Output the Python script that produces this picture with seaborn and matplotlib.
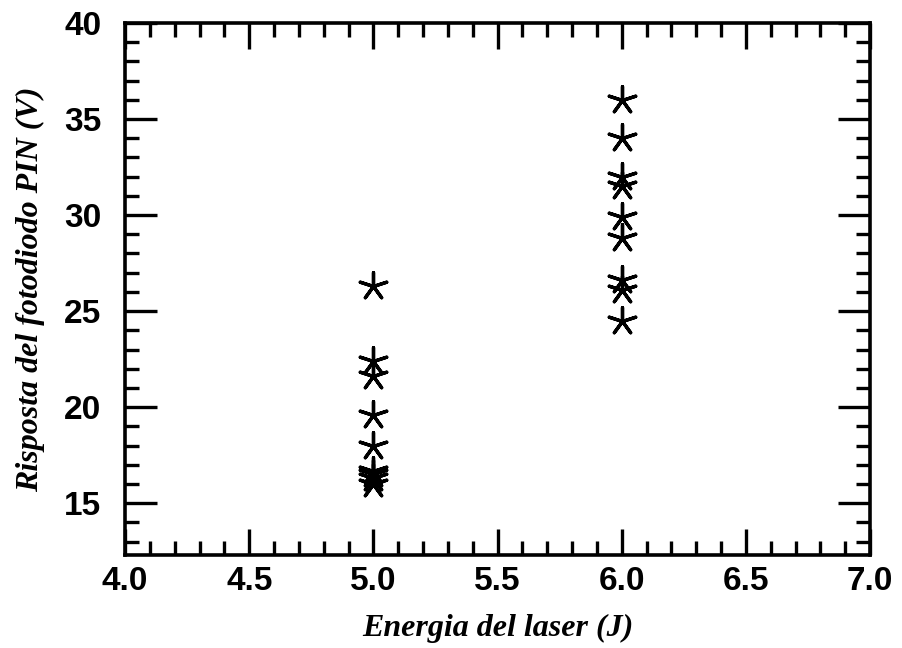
import matplotlib
matplotlib.use("Agg")
import matplotlib.pyplot as plt
import seaborn as sns
import pandas as pd
from matplotlib.ticker import MultipleLocator

# energia del laser (J) e risposta del fotodiodo (V)
energia = [5.0] * 9 + [6.0] * 9
risposta = [26.3, 22.4, 21.6, 19.6, 18.0, 16.7, 16.5, 16.3, 16.0,
            36.0, 34.0, 32.0, 31.5, 29.9, 28.8, 26.6, 26.1, 24.5]

xticks = [4.0, 4.5, 5.0, 5.5, 6.0, 6.5, 7.0]
yticks = [15, 20, 25, 30, 35, 40]

datos = pd.DataFrame({"Energia": energia, "Risposta": risposta})

sns.set_style("ticks")
plt.rcParams["font.family"] = ["Liberation Sans", "DejaVu Sans"]

fig = plt.figure(figsize=(9.02, 6.48), dpi=100)
ax = fig.add_axes([0.1386, 0.1435, 0.826, 0.821])

sns.scatterplot(data=datos, x="Energia", y="Risposta", marker=(5, 2, 0),
                s=400, color="black", linewidth=2.4, ax=ax, legend=False)

ax.set_xlim(4.0, 7.0)
ax.set_ylim(12.3, 40)
ax.set_xticks(xticks)
ax.set_xticklabels([f"{t:.1f}" for t in xticks])
ax.set_yticks(yticks)
ax.set_yticklabels([str(t) for t in yticks])
ax.xaxis.set_minor_locator(MultipleLocator(0.1))
ax.yaxis.set_minor_locator(MultipleLocator(1))

ax.tick_params(which="both", direction="in", top=True, right=True, width=2.4,
               color="black", labelcolor="black")
ax.tick_params(which="major", labelsize=24)
ax.tick_params(axis="x", which="major", length=19, pad=8)
ax.tick_params(axis="y", which="major", length=23, pad=17)
ax.tick_params(axis="x", which="minor", length=10)
ax.tick_params(axis="y", which="minor", length=10)
for lab in ax.get_xticklabels() + ax.get_yticklabels():
    lab.set_fontweight("bold")
for sp in ax.spines.values():
    sp.set_linewidth(2.6)
    sp.set_color("black")
    sp.set_visible(True)

ax.set_xlabel("Energia del laser (J)", family="Liberation Serif", color="black",
              fontsize=23, fontweight="bold", style="italic", labelpad=12)
ax.set_ylabel("Risposta del fotodiodo PIN (V)", family="Liberation Serif",
              color="black", fontsize=23, fontweight="bold", style="italic",
              labelpad=14)

fig.savefig("out.png", dpi=100)
